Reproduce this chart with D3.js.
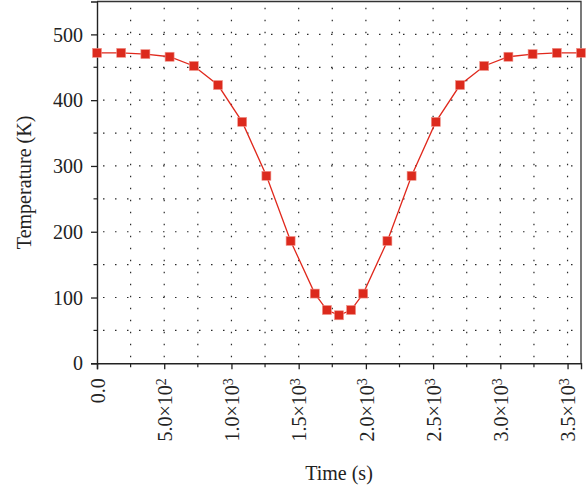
<!DOCTYPE html>
<html>
<head>
<meta charset="utf-8">
<script src="https://cdn.jsdelivr.net/npm/d3@7/dist/d3.min.js"></script>
<style>
  html, body { margin: 0; padding: 0; background: #fff; }
  svg { display: block; }
  svg text { font-family: "Liberation Serif", "Times New Roman", serif; }
</style>
</head>
<body>
<svg id="chart" width="586" height="488"></svg>
<script>
// Temperature history of the sample
const times = [0, 180, 360, 540, 720, 900, 1080, 1260, 1440, 1620, 1710, 1800, 1890, 1980,
               2160, 2340, 2520, 2700, 2880, 3060, 3240, 3420, 3600];
const temps = [472, 472, 470, 466, 452, 423, 367, 285, 186, 106, 81, 73, 81, 106,
               186, 285, 367, 423, 452, 466, 470, 472, 472];

// Axis ticks
const xMajorTicks = [0, 500, 1000, 1500, 2000, 2500, 3000, 3500];
const xTickBase = ["0.0", "5.0×10", "1.0×10", "1.5×10", "2.0×10", "2.5×10", "3.0×10", "3.5×10"];
const xTickExp = ["", "2", "3", "3", "3", "3", "3", "3"];
const xMinorTicks = [250, 750, 1250, 1750, 2250, 2750, 3250];
const yMajorTicks = [0, 100, 200, 300, 400, 500];
const yMinorTicks = [50, 150, 250, 350, 450];
const xGrid = [250, 500, 750, 1000, 1250, 1500, 1750, 2000, 2250, 2500, 2750, 3000, 3250, 3500];
const yGrid = [50, 100, 150, 200, 250, 300, 350, 400, 450, 500];

const xTitle = "Time (s)";
const yTitle = "Temperature (K)";

const svg = d3.select("#chart");
const serif = "Liberation Serif, Times New Roman, serif";
const plotLeft = 97, plotRight = 581, plotTop = 1.5, plotBottom = 363.3;
const lineColor = "#e0281c";

const x = d3.scaleLinear().domain([0, 3600]).range([plotLeft, plotRight]);
const y = d3.scaleLinear().domain([0, 550]).range([plotBottom, plotTop]);

// dotted grid
const grid = svg.append("g")
  .attr("stroke", "#2a2a2a")
  .attr("stroke-width", 1.2)
  .attr("stroke-dasharray", "1.5,10.5");
grid.selectAll("line.gx").data(xGrid).join("line")
  .attr("class", "gx")
  .attr("x1", d => x(d)).attr("x2", d => x(d))
  .attr("y1", plotBottom - 6).attr("y2", plotTop);
grid.selectAll("line.gy").data(yGrid).join("line")
  .attr("class", "gy")
  .attr("y1", d => y(d)).attr("y2", d => y(d))
  .attr("x1", plotLeft + 6).attr("x2", plotRight);

// frame top and right
svg.append("path")
  .attr("d", `M${plotLeft},${plotTop}H${plotRight}V${plotBottom}`)
  .attr("fill", "none").attr("stroke", "#333").attr("stroke-width", 1.3);

// x axis
const xAxis = svg.append("g")
  .attr("transform", `translate(0,${plotBottom})`)
  .call(d3.axisBottom(x).tickValues(xMajorTicks).tickSize(6).tickFormat(""))
  .attr("font-family", serif);
xAxis.select(".domain").attr("stroke", "#222").attr("stroke-width", 1.4);
xAxis.selectAll(".tick line").attr("stroke", "#222").attr("stroke-width", 1.3);
xAxis.selectAll(".tick text").remove();
xAxis.selectAll("line.minor").data(xMinorTicks).join("line")
  .attr("class", "minor")
  .attr("x1", d => x(d)).attr("x2", d => x(d))
  .attr("y1", 0).attr("y2", 4)
  .attr("stroke", "#222").attr("stroke-width", 1.2);

xAxis.selectAll(".tick").each(function(d, i) {
  const t = d3.select(this).append("text")
    .attr("transform", "translate(0,15) rotate(-90)")
    .attr("text-anchor", "end")
    .attr("dy", "0.36em")
    .attr("fill", "#222")
    .attr("font-family", serif)
    .attr("font-size", 20);
  t.append("tspan").text(xTickBase[i]);
  if (xTickExp[i]) {
    t.append("tspan").attr("dy", "-0.45em").attr("font-size", 14).text(xTickExp[i]);
  }
});

// y axis
const yAxis = svg.append("g")
  .attr("transform", `translate(${plotLeft},0)`)
  .call(d3.axisLeft(y).tickValues(yMajorTicks).tickSize(6).tickPadding(8))
  .attr("font-family", serif);
yAxis.select(".domain").attr("stroke", "#222").attr("stroke-width", 1.4);
yAxis.selectAll(".tick line").attr("stroke", "#222").attr("stroke-width", 1.3);
yAxis.selectAll(".tick text")
  .attr("font-size", 20).attr("fill", "#222")
  .attr("font-family", serif).attr("dy", "0.33em");
yAxis.selectAll("line.minor").data(yMinorTicks).join("line")
  .attr("class", "minor")
  .attr("y1", d => y(d)).attr("y2", d => y(d))
  .attr("x1", 0).attr("x2", -3.5)
  .attr("stroke", "#222").attr("stroke-width", 1.2);

// axis titles
svg.append("text")
  .attr("x", (plotLeft + plotRight) / 2).attr("y", 480)
  .attr("text-anchor", "middle").attr("font-size", 20).attr("fill", "#222")
  .attr("font-family", serif)
  .text(xTitle);
svg.append("text")
  .attr("transform", `translate(31,${(plotTop + plotBottom) / 2}) rotate(-90)`)
  .attr("text-anchor", "middle").attr("font-size", 20).attr("fill", "#222")
  .attr("font-family", serif)
  .text(yTitle);

// data line and markers
const pts = times.map((t, i) => [t, temps[i]]);
svg.append("path")
  .datum(pts)
  .attr("fill", "none")
  .attr("stroke", lineColor)
  .attr("stroke-width", 1.3)
  .attr("d", d3.line().x(d => x(d[0])).y(d => y(d[1])));

const sz = 9;
svg.append("g").selectAll("rect").data(pts).join("rect")
  .attr("x", d => x(d[0]) - sz / 2)
  .attr("y", d => y(d[1]) - sz / 2)
  .attr("width", sz).attr("height", sz)
  .attr("fill", "#dc2a1d")
  .attr("stroke", "#f0958c")
  .attr("stroke-width", 0.6);
</script>
</body>
</html>
